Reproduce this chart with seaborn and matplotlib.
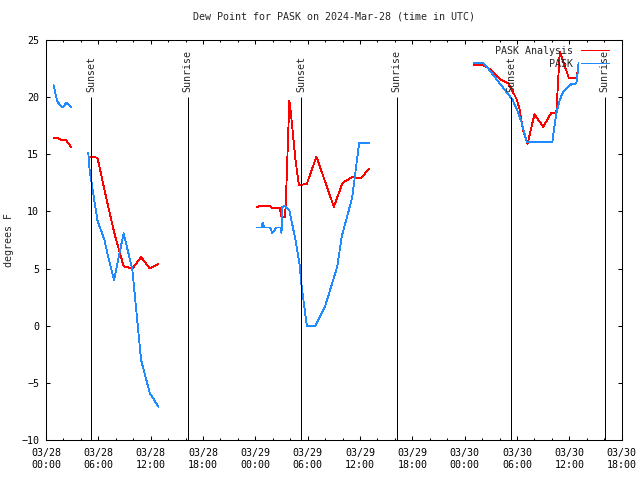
import numpy as np
import pandas as pd
import seaborn as sns
import matplotlib
matplotlib.use("Agg")
import matplotlib.pyplot as plt
from matplotlib.ticker import MultipleLocator

# times are hours after 2024-03-28 00:00 UTC, values in degrees F
# observed dew point (PASK), one list per unbroken stretch
obs_hours = [
    [0.85, 1.3, 1.9, 2.35, 2.9],
    [4.85, 5.0, 5.9, 6.7, 7.05, 7.8, 8.9, 9.9, 10.9, 11.9, 12.9],
    [24.2, 24.7, 24.85, 25.0, 25.7, 25.95, 26.4, 26.9, 27.0, 27.1, 27.4, 27.9,
     28.6, 29.1, 29.25, 29.9, 30.9, 32.0, 33.4, 33.9, 35.1, 35.9, 37.0],
    [49.0, 50.1, 50.5, 53.5, 54.1, 54.5, 55.1, 58.05, 58.5, 58.9, 59.3, 60.25,
     60.8, 61.0, 61.05],
]
obs_dewpt = [
    [21.1, 19.6, 19.1, 19.5, 19.1],
    [15.1, 13.6, 9.2, 7.5, 6.3, 4.0, 8.1, 4.9, -3.0, -5.9, -7.1],
    [8.6, 8.6, 9.0, 8.6, 8.6, 8.1, 8.6, 8.6, 8.1, 10.4, 10.5, 10.1,
     7.5, 5.2, 3.8, 0.0, 0.0, 1.7, 5.2, 7.8, 11.2, 16.0, 16.0],
    [23.0, 23.0, 22.7, 19.75, 18.7, 17.85, 16.1, 16.1, 18.6, 19.75, 20.5, 21.15,
     21.2, 22.4, 23.0],
]

# analysis dew point (PASK Analysis)
ana_hours = [
    [0.85, 1.4, 1.8, 2.3, 2.9],
    [4.9, 5.9, 6.9, 7.9, 8.9, 9.9, 10.9, 11.9, 12.9],
    [24.2, 24.7, 25.7, 25.9, 26.8, 27.0, 27.4, 27.5, 27.9, 28.1, 28.6, 29.0,
     29.9, 31.0, 33.0, 34.0, 35.1, 36.1, 37.0],
    [49.0, 50.1, 51.0, 52.0, 53.0, 53.5, 54.0, 54.3, 54.7, 55.2, 56.0, 57.0,
     57.9, 58.5, 58.9, 59.95, 60.8, 61.0],
]
ana_dewpt = [
    [16.4, 16.4, 16.25, 16.25, 15.6],
    [14.8, 14.7, 11.2, 7.9, 5.2, 5.0, 6.0, 5.0, 5.4],
    [10.4, 10.5, 10.5, 10.3, 10.3, 9.5, 9.5, 10.9, 19.7, 18.4, 14.5, 12.3,
     12.4, 14.8, 10.4, 12.5, 13.0, 12.9, 13.7],
    [22.8, 22.8, 22.4, 21.6, 21.2, 20.5, 19.75, 18.9, 17.1, 15.9, 18.5, 17.4,
     18.6, 18.6, 24.0, 21.65, 21.65, 22.4],
]

sun_hours = [5.16, 16.25, 29.28, 40.22, 53.33, 64.03]
sun_labels = ["Sunset", "Sunrise", "Sunset", "Sunrise", "Sunset", "Sunrise"]

tick_hours = list(range(0, 67, 6))
tick_labels = ["03/28\n00:00", "03/28\n06:00", "03/28\n12:00", "03/28\n18:00",
               "03/29\n00:00", "03/29\n06:00", "03/29\n12:00", "03/29\n18:00",
               "03/30\n00:00", "03/30\n06:00", "03/30\n12:00", "03/30\n18:00"]

rows = []
for name, hrs, vals in [("PASK Analysis", ana_hours, ana_dewpt),
                        ("PASK", obs_hours, obs_dewpt)]:
    for k, (h, v) in enumerate(zip(hrs, vals)):
        rows += [dict(series=name, seg=k, hour=x, dewpt=y) for x, y in zip(h, v)]
df = pd.DataFrame(rows)

sns.set_style("ticks")
plt.rcParams.update({
    "font.family": ["DejaVu Sans Mono"],
    "font.size": 7.2,
    "axes.titlesize": 7.2,
    "axes.labelsize": 7.2,
    "axes.edgecolor": "black",
    "axes.linewidth": 0.75,
    "xtick.color": "black",
    "ytick.color": "black",
})

fig = plt.figure(figsize=(6.4, 4.8), dpi=100)
ax = fig.add_axes([46 / 640, 1 - 440 / 480, 575.7 / 640, 400 / 480])

sns.lineplot(data=df, x="hour", y="dewpt", hue="series", units="seg",
             estimator=None, hue_order=["PASK Analysis", "PASK"],
             palette={"PASK Analysis": "#ff0000", "PASK": "#1e8cff"},
             linewidth=0.6, ax=ax, sort=True)

ax.vlines(sun_hours, -10, 20, color="black", linewidth=0.72)
for h, lab in zip(sun_hours, sun_labels):
    ax.text(h, 20.45, lab, rotation=90, ha="center", va="bottom")

ax.set_xlim(0, 66)
ax.set_ylim(-10, 25)
ax.set_xticks(tick_hours)
ax.set_xticklabels(tick_labels)
ax.xaxis.set_minor_locator(MultipleLocator(2))
ax.yaxis.set_major_locator(MultipleLocator(5))
ax.tick_params(which="both", direction="in", top=True, right=True, width=0.75)
ax.tick_params(which="major", length=3)
ax.tick_params(which="minor", length=1.6)
ax.tick_params(axis="x", pad=6)
ax.tick_params(axis="y", pad=5)

ax.set_xlabel("")
ax.set_ylabel("degrees F", labelpad=5)
ax.set_title("Dew Point for PASK on 2024-Mar-28 (time in UTC)", pad=15)

handles, labels = ax.get_legend_handles_labels()
leg = ax.legend(handles, labels, loc="upper right", bbox_to_anchor=(0.99, 1.003),
                frameon=False, markerfirst=False, handlelength=2.8,
                handletextpad=0.8, labelspacing=0.3, borderaxespad=0.3)
for line in leg.get_lines():
    line.set_linewidth(0.6)
    line.set_antialiased(False)

for line in ax.get_lines():
    line.set_antialiased(False)

fig.savefig("out.png", dpi=100)
